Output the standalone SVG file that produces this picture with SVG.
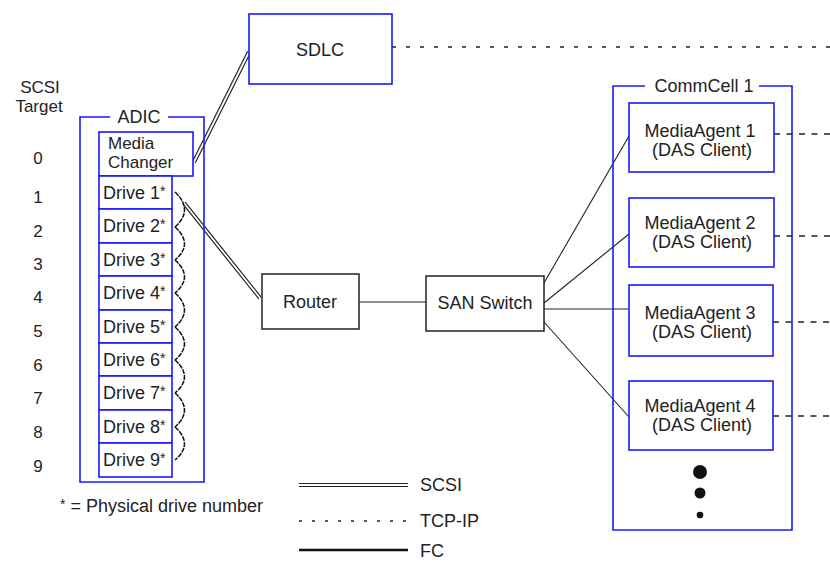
<svg xmlns="http://www.w3.org/2000/svg" width="830" height="562" viewBox="0 0 830 562">
<style>
text{font-family:"Liberation Sans",Arial,sans-serif;font-size:18px;fill:#222}
.c{text-anchor:middle}
.blue{fill:#fff;stroke:#1a1aff;stroke-width:1.6}
.bluef{fill:none;stroke:#1a1aff;stroke-width:1.6}
.blk{fill:#fff;stroke:#222;stroke-width:1.5}
.scsiO{fill:none;stroke:#222;stroke-width:4.2}
.scsiI{fill:none;stroke:#fff;stroke-width:1.8}
.tcp{fill:none;stroke:#222;stroke-width:1.4;stroke-dasharray:4 10}
.tcp2{fill:none;stroke:#222;stroke-width:1.4;stroke-dasharray:6 6.5}
.fc{fill:none;stroke:#222;stroke-width:1.1}
.brace{fill:none;stroke:#111;stroke-width:1.5;stroke-dasharray:5 1}
.num{font-size:17px}
.sm{font-size:17px}
.st{font-size:14px}
</style>
<rect width="830" height="562" fill="#fff"/>

<g id="connectors">
  <path class="scsiO" d="M194,162 L249,52"/>
  <path class="scsiI" d="M194,162 L249,52"/>
  <path class="scsiO" d="M184,203 L260,298"/>
  <path class="scsiI" d="M184,203 L260,298"/>
  <path class="tcp" d="M392,47 H830"/>
  <path class="tcp2" d="M774,134 H830"/>
  <path class="tcp2" d="M774,236 H830"/>
  <path class="tcp2" d="M773,322 H830"/>
  <path class="tcp2" d="M773,416 H830"/>
  <path class="fc" d="M359,302 H426"/>
  <path class="fc" d="M544,283 L629,136"/>
  <path class="fc" d="M544,303 L629,234"/>
  <path class="fc" d="M544,309 H629"/>
  <path class="fc" d="M544,322 L629,417"/>
  <g id="braces">
    <path class="brace" d="M175,192 Q194,210 175,227"/>
    <path class="brace" d="M175,227 Q194,244 175,260"/>
    <path class="brace" d="M175,260 Q194,277 175,293"/>
    <path class="brace" d="M175,293 Q194,310 175,327"/>
    <path class="brace" d="M175,327 Q194,344 175,360"/>
    <path class="brace" d="M175,360 Q194,377 175,393"/>
    <path class="brace" d="M175,393 Q194,410 175,427"/>
    <path class="brace" d="M175,427 Q194,444 175,460"/>
  </g>
</g>

<g id="scsi-target">
  <text class="c sm" x="40" y="93">SCSI</text>
  <text class="c sm" x="39" y="112">Target</text>
  <text class="c num" x="38" y="164">0</text>
  <text class="c num" x="38" y="203">1</text>
  <text class="c num" x="38" y="237">2</text>
  <text class="c num" x="38" y="270">3</text>
  <text class="c num" x="38" y="303">4</text>
  <text class="c num" x="38" y="337">5</text>
  <text class="c num" x="38" y="371">6</text>
  <text class="c num" x="38" y="404">7</text>
  <text class="c num" x="38" y="438">8</text>
  <text class="c num" x="38" y="472">9</text>
</g>

<g id="adic">
  <path class="bluef" d="M110,117 H80 V482 H204 V117 H168"/>
  <text class="c" x="139" y="123">ADIC</text>
</g>

<g id="media-changer">
  <rect class="blue" x="99" y="132" width="94" height="44"/>
  <text class="sm" x="108" y="149">Media</text>
  <text class="sm" x="108" y="168">Changer</text>
</g>

<g id="drive1"><rect class="blue" x="99" y="176" width="73" height="33"/><text x="103" y="198.5">Drive 1<tspan class="st" dy="-3">*</tspan></text></g>
<g id="drive2"><rect class="blue" x="99" y="209" width="73" height="34"/><text x="103" y="232">Drive 2<tspan class="st" dy="-3">*</tspan></text></g>
<g id="drive3"><rect class="blue" x="99" y="243" width="73" height="33"/><text x="103" y="265.5">Drive 3<tspan class="st" dy="-3">*</tspan></text></g>
<g id="drive4"><rect class="blue" x="99" y="276" width="73" height="34"/><text x="103" y="299">Drive 4<tspan class="st" dy="-3">*</tspan></text></g>
<g id="drive5"><rect class="blue" x="99" y="310" width="73" height="33"/><text x="103" y="332.5">Drive 5<tspan class="st" dy="-3">*</tspan></text></g>
<g id="drive6"><rect class="blue" x="99" y="343" width="73" height="33"/><text x="103" y="365.5">Drive 6<tspan class="st" dy="-3">*</tspan></text></g>
<g id="drive7"><rect class="blue" x="99" y="376" width="73" height="34"/><text x="103" y="399">Drive 7<tspan class="st" dy="-3">*</tspan></text></g>
<g id="drive8"><rect class="blue" x="99" y="410" width="73" height="33"/><text x="103" y="432.5">Drive 8<tspan class="st" dy="-3">*</tspan></text></g>
<g id="drive9"><rect class="blue" x="99" y="443" width="73" height="34"/><text x="103" y="466">Drive 9<tspan class="st" dy="-3">*</tspan></text></g>

<g id="sdlc">
  <rect class="blue" x="249" y="14" width="143" height="70"/>
  <text class="c" x="320" y="56">SDLC</text>
</g>

<g id="router">
  <rect class="blk" x="262" y="274" width="97" height="55"/>
  <text class="c" x="310" y="308">Router</text>
</g>

<g id="san-switch">
  <rect class="blk" x="426" y="276" width="118" height="55"/>
  <text class="c" x="485" y="309">SAN Switch</text>
</g>

<g id="commcell">
  <path class="bluef" d="M645,86 H613 V530 H792 V86 H759"/>
  <text class="c" x="704" y="92">CommCell 1</text>
</g>

<g id="ma1">
  <rect class="blue" x="629" y="103" width="145" height="69"/>
  <text class="c" x="700" y="137">MediaAgent 1</text>
  <text class="c" x="702" y="156">(DAS Client)</text>
</g>
<g id="ma2">
  <rect class="blue" x="629" y="198" width="145" height="69"/>
  <text class="c" x="700" y="229">MediaAgent 2</text>
  <text class="c" x="702" y="248">(DAS Client)</text>
</g>
<g id="ma3">
  <rect class="blue" x="629" y="285" width="144" height="71"/>
  <text class="c" x="700" y="319">MediaAgent 3</text>
  <text class="c" x="702" y="338">(DAS Client)</text>
</g>
<g id="ma4">
  <rect class="blue" x="629" y="381" width="144" height="69"/>
  <text class="c" x="700" y="412">MediaAgent 4</text>
  <text class="c" x="702" y="431">(DAS Client)</text>
</g>

<g id="ellipsis">
  <circle cx="700" cy="472" r="7" fill="#111"/>
  <circle cx="700" cy="493" r="5.5" fill="#111"/>
  <circle cx="700" cy="515" r="3.3" fill="#111"/>
</g>

<g id="footnote">
  <text x="60" y="512"><tspan class="st" dy="-3">*</tspan><tspan dy="3"> = Physical drive number</tspan></text>
</g>

<g id="legend">
  <path class="scsiO" d="M299,485 H408"/>
  <path class="scsiI" d="M299,485 H408"/>
  <text x="420" y="491">SCSI</text>
  <path d="M299,521 H408" fill="none" stroke="#222" stroke-width="1.4" stroke-dasharray="3 10"/>
  <text x="420" y="527">TCP-IP</text>
  <path d="M299,550 H408" fill="none" stroke="#111" stroke-width="2.6"/>
  <text x="420" y="557">FC</text>
</g>
</svg>
